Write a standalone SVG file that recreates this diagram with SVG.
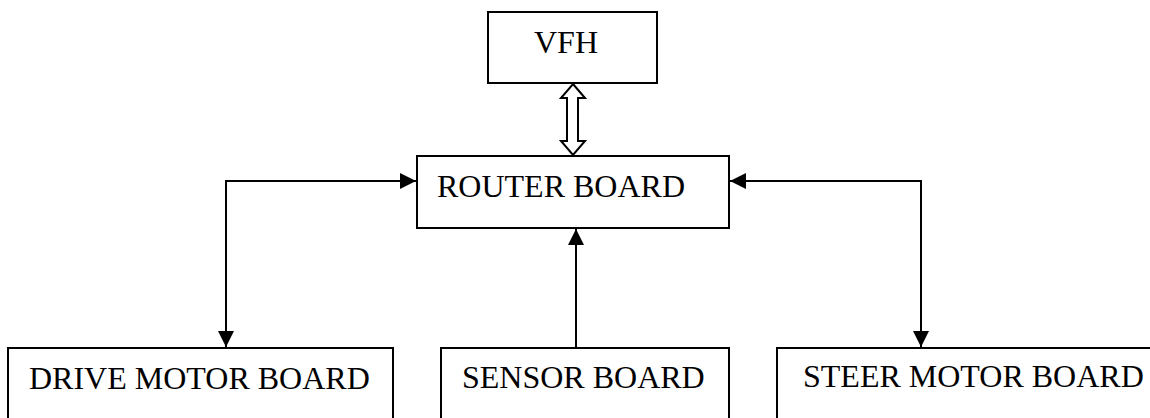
<svg xmlns="http://www.w3.org/2000/svg" width="1150" height="418" viewBox="0 0 1150 418">
  <style>
    .box { fill: #ffffff; stroke: #000000; stroke-width: 2; }
    .label { font-family: "Liberation Serif", "Times New Roman", serif; font-size: 32px; fill: #000000; }
    .wire { fill: none; stroke: #000000; stroke-width: 2; }
    .bus { fill: #ffffff; stroke: #000000; stroke-width: 2; stroke-linejoin: miter; }
  </style>
  <defs>
    <marker id="head" markerUnits="userSpaceOnUse" markerWidth="18" markerHeight="16" refX="16" refY="8" orient="auto-start-reverse">
      <path d="M0,0 L16,8 L0,16 Z" fill="#000000"/>
    </marker>
  </defs>
  <rect width="1150" height="418" fill="#ffffff"/>

  <g id="connectors">
    <!-- two-way bus between VFH and the router -->
    <path class="bus" d="M573,84 L585,98 L578,98 L578,141 L585,141 L573,155 L561,141 L567,141 L567,98 L561,98 Z"/>
    <!-- router to drive motor board (both directions) -->
    <path class="wire" d="M416,181 L226,181 L226,347" marker-start="url(#head)" marker-end="url(#head)"/>
    <!-- sensor board feeds the router -->
    <path class="wire" d="M576,348 L576,229" marker-end="url(#head)"/>
    <!-- router to steer motor board (both directions) -->
    <path class="wire" d="M730,181 L921,181 L921,347" marker-start="url(#head)" marker-end="url(#head)"/>
  </g>

  <g id="vfh">
    <rect class="box" x="488" y="12" width="169" height="71"/>
    <text class="label" x="534" y="53">VFH</text>
  </g>

  <g id="router-board">
    <rect class="box" x="417" y="156" width="312" height="72"/>
    <text class="label" x="437" y="197">ROUTER BOARD</text>
  </g>

  <g id="drive-motor-board">
    <rect class="box" x="8" y="348" width="385" height="90"/>
    <text class="label" x="29" y="389">DRIVE MOTOR BOARD</text>
  </g>

  <g id="sensor-board">
    <rect class="box" x="441" y="348" width="288" height="90"/>
    <text class="label" x="462" y="388">SENSOR BOARD</text>
  </g>

  <g id="steer-motor-board">
    <rect class="box" x="777" y="348" width="390" height="90"/>
    <text class="label" x="803" y="387">STEER MOTOR BOARD</text>
  </g>
</svg>
